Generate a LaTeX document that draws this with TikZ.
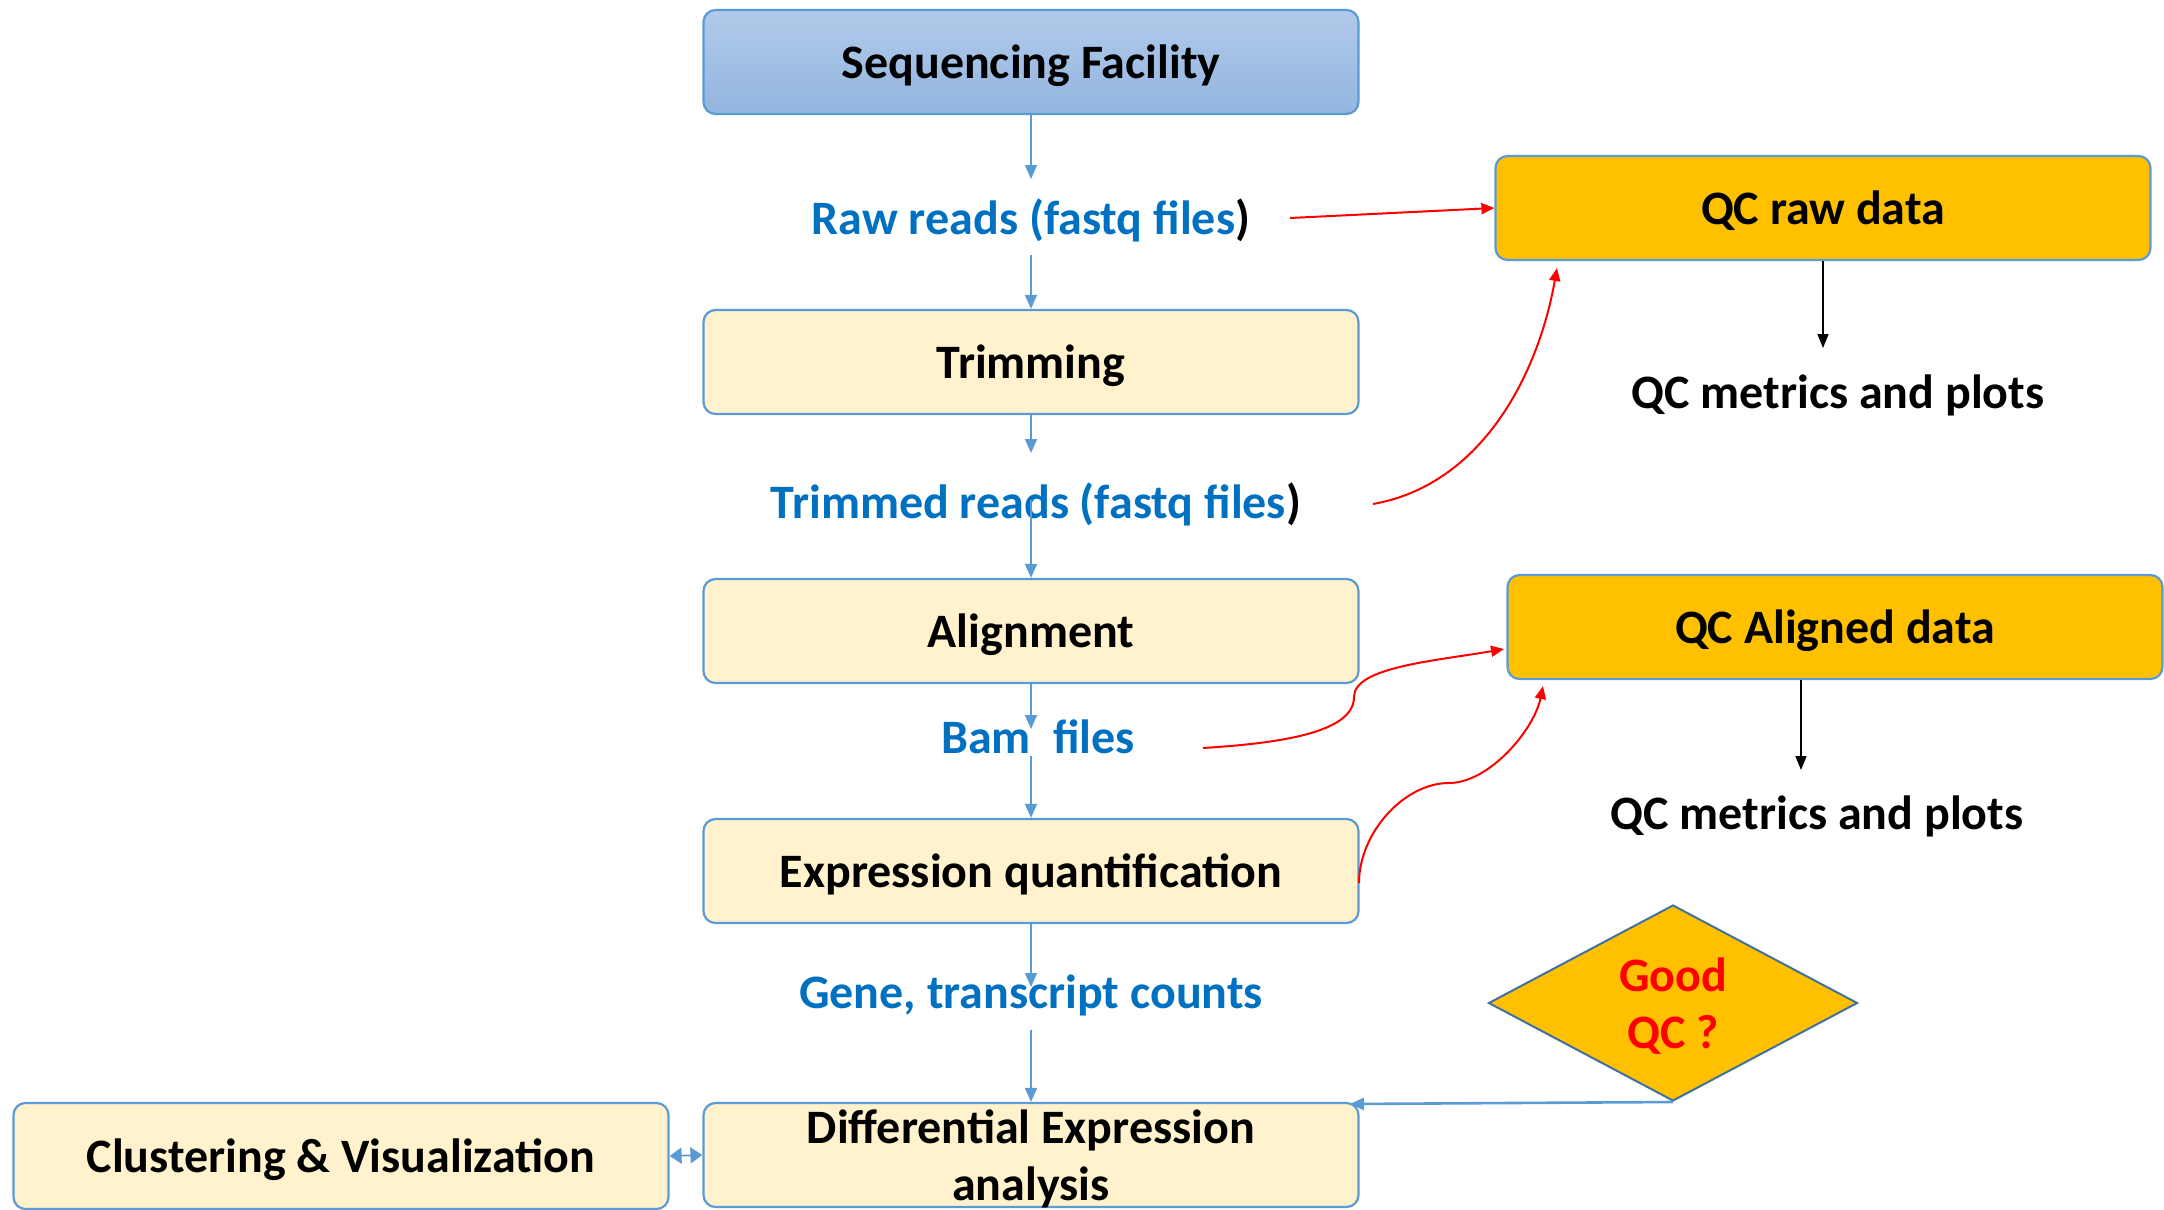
\documentclass[tikz,border=0pt]{standalone}
\usepackage{fontspec}
\setmainfont{Carlito}
\usetikzlibrary{shapes.geometric,arrows.meta,calc}
\definecolor{boxfill}{HTML}{FFF2CC}
\definecolor{boxline}{HTML}{5B9BD5}
\definecolor{seqtop}{HTML}{B1CAEA}
\definecolor{seqbot}{HTML}{93B5E0}
\definecolor{qcfill}{HTML}{FFC000}
\definecolor{txtblue}{HTML}{0070C0}
\definecolor{flowblue}{HTML}{5B9BD5}
\definecolor{diaedge}{HTML}{41719C}

\begin{document}
\begin{tikzpicture}[x=0.5pt,y=-0.5pt,
  every node/.style={font=\fontsize{24}{28.5}\selectfont\bfseries},
  stepbox/.style={draw=boxline, line width=1.1pt, rounded corners=6pt, fill=boxfill,
    minimum width=327.5pt, minimum height=52pt, align=center, inner sep=0pt, text depth=0pt},
  qcbox/.style={stepbox, fill=qcfill},
  datalabel/.style={text=txtblue, inner sep=0pt},
  metriclabel/.style={inner sep=0pt, text depth=0pt},
  flow/.style={draw=flowblue, line width=0.85pt, -{Triangle[width=6pt,length=7pt]}},
  qcflow/.style={draw=red, line width=1pt, -{Triangle[width=5.5pt,length=6.5pt]}},
  metric/.style={draw=black, line width=0.8pt, -{Triangle[width=5.5pt,length=7pt]}}
]
\useasboundingbox (0,0) rectangle (2164,1210);

% main pipeline
\node[stepbox, top color=seqtop, bottom color=seqbot] (seq) at (1031,62) {Sequencing Facility};
\node[datalabel] (raw) at (1031,220) {Raw reads (fastq files\textcolor{black}{)}};
\node[stepbox] (trim) at (1031,362) {Trimming};
\node[datalabel] (trimmed) at (1036,504) {Trimmed reads (fastq files\textcolor{black}{)}};
\node[stepbox] (align) at (1031,631) {Alignment};
\node[datalabel] (bam) at (1038,737) {Bam\hspace{0.46em}files};
\node[stepbox] (expr) at (1031,871) {Expression quantification};
\node[datalabel] (counts) at (1031,995) {Gene, transcript counts};
\node[stepbox] (de) at (1031,1155) {Differential Expression\\analysis};
\node[stepbox, minimum height=53pt] (clust) at (341,1156) {Clustering \& Visualization};

% quality control branch
\node[qcbox] (qcraw) at (1823,208) {QC raw data};
\node[metriclabel] (m1) at (1838,392) {QC metrics and plots};
\node[qcbox] (qcal) at (1835,627) {QC Aligned data};
\node[metriclabel] (m2) at (1817,813) {QC metrics and plots};
\node[diamond, draw=diaedge, line width=1pt, fill=qcfill, text=red, aspect=1.88,
  inner sep=0pt, text depth=0pt, minimum width=184.5pt, minimum height=98pt, align=center]
  (good) at (1673,1003) {Good\\QC ?};

% blue flow arrows
\coordinate (a1) at (1031,179);
\coordinate (a2) at (1031,255);
\coordinate (a3) at (1031,453);
\coordinate (a4) at (1031,500);
\coordinate (a5) at (1031,729);
\coordinate (a6) at (1031,756);
\coordinate (a7) at (1031,987);
\coordinate (a8) at (1031,1030);
\draw[flow] (seq.south) -- (a1);
\draw[flow] (a2) -- (trim.north);
\draw[flow] (trim.south) -- (a3);
\draw[flow] (a4) -- (align.north);
\draw[flow] (align.south) -- (a5);
\draw[flow] (a6) -- (expr.north);
\draw[flow] (expr.south) -- (a7);
\draw[flow] (a8) -- (de.north);
\draw[draw=flowblue, line width=0.85pt,
  {Triangle[width=8pt,length=6pt]}-{Triangle[width=8pt,length=6pt]}] (clust.east) -- (de.west);
\coordinate (q1) at (1350,1104);
\draw[flow, line width=1.3pt] (good.south) -- (q1);

% black arrows to metrics
\coordinate (m1top) at (1823,348);
\coordinate (m2top) at (1801,770);
\draw[metric] (qcraw.south) -- (m1top);
\draw[metric] (m2top |- qcal.south) -- (m2top);

% red QC arrows
\coordinate (r1) at (1290,218);
\draw[qcflow] (r1) -- (qcraw.west);
\coordinate (r2s) at (1373,504);
\coordinate (r2e) at (1557,268);
\draw[qcflow] (r2s) .. controls (1481,485) and (1538,376) .. (r2e);
\coordinate (r3s) at (1203,748);
\coordinate (r3k) at (1354,697);
\coordinate (r3e) at (1504,649);
\draw[qcflow] (r3s) .. controls (1283,743) and (1354,732) .. (r3k)
  .. controls (1354,667) and (1435,661) .. (r3e);
\coordinate (r4s) at (1359,883);
\coordinate (r4m) at (1449,783);
\coordinate (r4e) at (1543,686);
\draw[qcflow] (r4s) .. controls (1359,833) and (1404,783) .. (r4m)
  .. controls (1489,783) and (1534,730) .. (r4e);
\end{tikzpicture}
\end{document}
